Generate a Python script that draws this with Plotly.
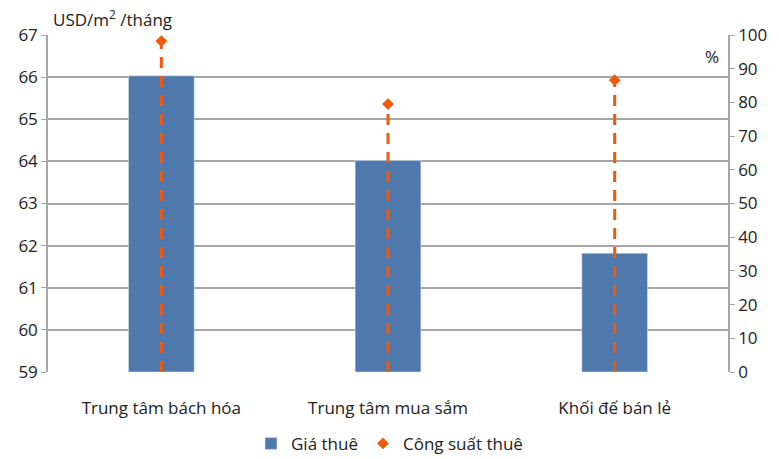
import plotly.graph_objects as go

categories = ["Trung tâm bách hóa", "Trung tâm mua sắm", "Khối đế bán lẻ"]
rent = [66.03, 64.02, 61.82]
occupancy = [98.2, 79.5, 86.6]
left_ticks = list(range(59, 68))
right_ticks = list(range(0, 101, 10))

BLUE = "#4F78AD"
ORANGE = "#F25A0A"
GRID = "#A6A6A6"
FONT = "Open Sans, Noto Sans, sans-serif"

fig = go.Figure()
fig.add_trace(go.Bar(
    x=categories, y=[r - 59 for r in rent], base=59, name="Giá thuê",
    marker=dict(color=BLUE), width=0.29, yaxis="y",
))
# dashed drop lines from the axis to each occupancy point
lx, ly = [], []
for c, v in zip(categories, occupancy):
    lx += [c, c, None]
    ly += [0, v, None]
fig.add_trace(go.Scatter(
    x=lx, y=ly, mode="lines", yaxis="y2", showlegend=False, hoverinfo="skip",
    line=dict(color=ORANGE, width=3, dash="11px,8px"),
))
fig.add_trace(go.Scatter(
    x=categories, y=occupancy, mode="markers", name="Công suất thuê", yaxis="y2",
    marker=dict(symbol="diamond", color=ORANGE, size=9),
))

fig.update_layout(
    width=779, height=459,
    margin=dict(l=48, r=51, t=35, b=87),
    paper_bgcolor="white", plot_bgcolor="white",
    font=dict(family=FONT, size=17, color="#222222"),
    xaxis=dict(showline=False, ticks="", showgrid=False, automargin=False,
               tickfont=dict(size=17), range=[-0.5, 2.5], ticklabelstandoff=24),
    yaxis=dict(range=[59, 67], tickvals=left_ticks, showgrid=True, gridcolor=GRID,
               gridwidth=1.5, showline=True, linecolor=GRID, linewidth=1.5,
               ticks="outside", ticklen=5, tickcolor=GRID, zeroline=False,
               automargin=False),
    yaxis2=dict(range=[0, 100], tickvals=right_ticks, overlaying="y", side="right",
                showgrid=False, showline=True, linecolor=GRID, linewidth=1.5,
                ticks="outside", ticklen=5, tickcolor=GRID, zeroline=False,
                automargin=False),
    legend=dict(orientation="h", x=0.5, xanchor="center", xref="container",
                y=0.033, yanchor="middle", yref="container",
                font=dict(size=17)),
    annotations=[
        dict(text="USD/m<sup>2</sup> /tháng", x=0.005, y=1.05, xref="paper", yref="paper",
             xanchor="left", yanchor="middle", showarrow=False, font=dict(size=17)),
        dict(text="%", xref="paper", yref="paper", x=0.976, y=0.935,
             xanchor="center", yanchor="middle", showarrow=False, font=dict(size=17)),
    ],
)
fig.write_html("out.html", config={"displayModeBar": False},
               post_script="document.body.style.margin='0';document.body.style.overflow='hidden';")
